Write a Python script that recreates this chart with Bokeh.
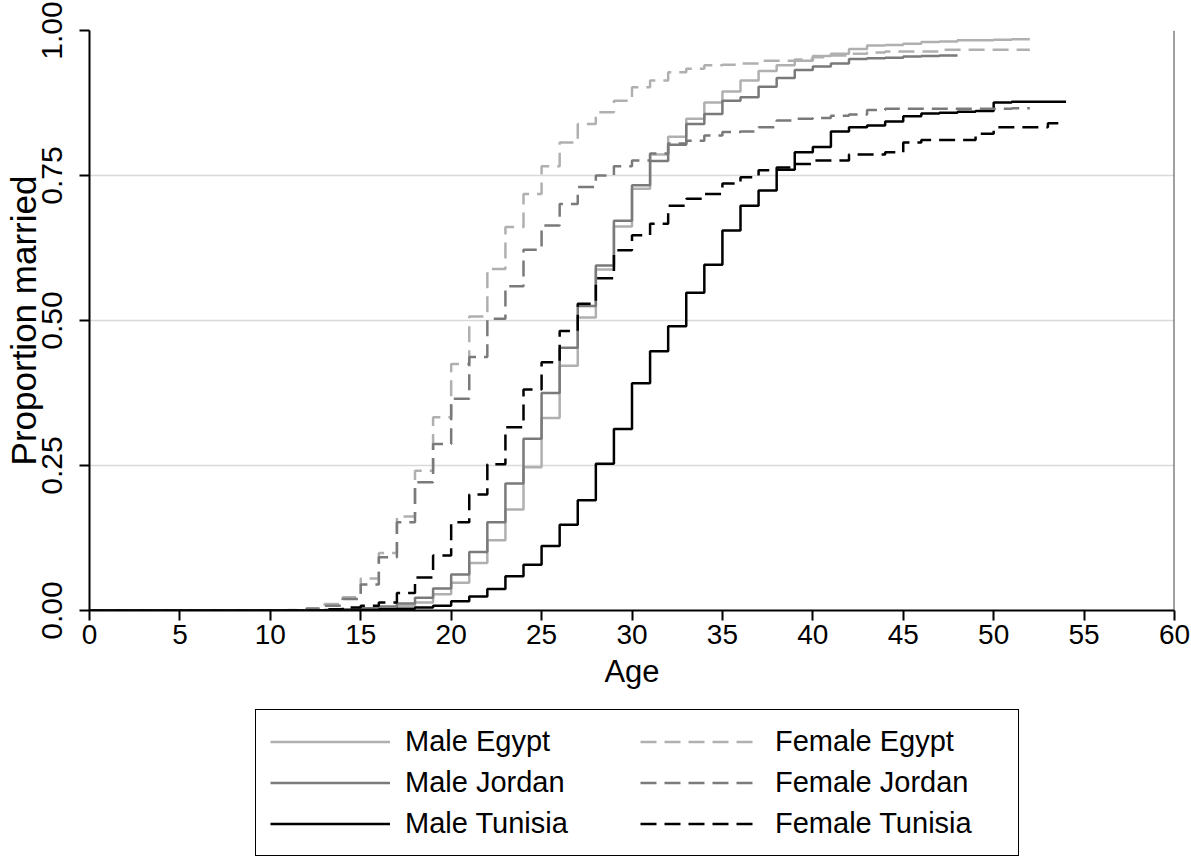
from bokeh.plotting import figure
from bokeh.models import Range1d, Legend, LegendItem, Span
from bokeh.layouts import column
from bokeh.embed import file_html
from bokeh.resources import INLINE

# ---- data (proportion married by single year of age, KM-style steps) ----
male_egypt = [0, 0, 0, 0, 0, 0, 0, 0, 0, 0, 0, 0, 0,
              0.001, 0.002, 0.003, 0.005, 0.008, 0.014, 0.028, 0.048, 0.082, 0.121,
              0.174, 0.247, 0.332, 0.422, 0.505, 0.588, 0.662, 0.727, 0.786, 0.817,
              0.848, 0.876, 0.895, 0.914, 0.930, 0.940, 0.948, 0.956, 0.960, 0.968,
              0.974, 0.975, 0.977, 0.980, 0.981, 0.983, 0.983, 0.984, 0.985, 0.985]
male_jordan = [0, 0, 0, 0, 0, 0, 0, 0, 0, 0, 0, 0, 0,
               0.001, 0.002, 0.004, 0.007, 0.012, 0.022, 0.038, 0.062, 0.101, 0.152,
               0.219, 0.296, 0.375, 0.453, 0.525, 0.595, 0.672, 0.733, 0.775, 0.803,
               0.839, 0.856, 0.879, 0.885, 0.903, 0.918, 0.932, 0.938, 0.943, 0.951,
               0.952, 0.953, 0.955, 0.956, 0.957, 0.957]
male_tunisia = [0, 0, 0, 0, 0, 0, 0, 0, 0, 0, 0, 0, 0, 0, 0,
                0.001, 0.002, 0.003, 0.005, 0.008, 0.016, 0.024, 0.037, 0.059, 0.079,
                0.111, 0.148, 0.190, 0.253, 0.313, 0.392, 0.447, 0.490, 0.548, 0.596,
                0.655, 0.698, 0.724, 0.760, 0.790, 0.799, 0.826, 0.833, 0.836, 0.843,
                0.852, 0.857, 0.858, 0.860, 0.861, 0.876, 0.877, 0.877, 0.877, 0.877]
female_egypt = [0, 0, 0, 0, 0, 0, 0, 0, 0, 0, 0,
                0.001, 0.004, 0.011, 0.023, 0.055, 0.099, 0.162, 0.241, 0.333, 0.425,
                0.507, 0.589, 0.661, 0.718, 0.766, 0.807, 0.839, 0.859, 0.879, 0.902,
                0.914, 0.928, 0.934, 0.940, 0.941, 0.943, 0.948, 0.948, 0.950, 0.954,
                0.957, 0.960, 0.962, 0.964, 0.964, 0.964, 0.967, 0.967, 0.967, 0.967,
                0.967, 0.967]
female_jordan = [0, 0, 0, 0, 0, 0, 0, 0, 0, 0, 0, 0,
                 0.003, 0.008, 0.020, 0.045, 0.092, 0.152, 0.221, 0.287, 0.365,
                 0.437, 0.503, 0.559, 0.622, 0.664, 0.701, 0.730, 0.750, 0.766, 0.776,
                 0.788, 0.805, 0.810, 0.819, 0.825, 0.826, 0.833, 0.845, 0.848, 0.849,
                 0.853, 0.855, 0.863, 0.865, 0.865, 0.865, 0.865, 0.865, 0.865, 0.865,
                 0.866, 0.866]
female_tunisia = [0, 0, 0, 0, 0, 0, 0, 0, 0, 0, 0, 0, 0,
                  0.002, 0.005, 0.008, 0.014, 0.030, 0.057, 0.095, 0.152, 0.200, 0.252,
                  0.316, 0.381, 0.428, 0.482, 0.529, 0.573, 0.621, 0.647, 0.667, 0.698,
                  0.710, 0.718, 0.736, 0.747, 0.759, 0.764, 0.770, 0.776, 0.776, 0.786,
                  0.786, 0.790, 0.807, 0.811, 0.811, 0.811, 0.822, 0.833, 0.833, 0.833,
                  0.840, 0.840]

x_ticks = [0, 5, 10, 15, 20, 25, 30, 35, 40, 45, 50, 55, 60]
y_ticks = [0, 0.25, 0.5, 0.75, 1.0]
y_tick_labels = ["0.00", "0.25", "0.50", "0.75", "1.00"]
male_labels = ["Male Egypt", "Male Jordan", "Male Tunisia"]
female_labels = ["Female Egypt", "Female Jordan", "Female Tunisia"]

FONT = "Liberation Sans"
LIGHT = "#b0b0b0"
MID = "#7a7a7a"
DARK = "#000000"
COLORS = [LIGHT, MID, DARK]
DASH = "16 8"
LW = 2.5

male_series = [male_egypt, male_jordan, male_tunisia]
female_series = [female_egypt, female_jordan, female_tunisia]

def ages(vals):
    return list(range(len(vals)))

def draw_series(fig):
    rs = []
    for vals, col in zip(male_series, COLORS):
        rs.append(fig.step(ages(vals), vals, mode="after", line_color=col, line_width=LW))
    for vals, col in zip(female_series, COLORS):
        rs.append(fig.step(ages(vals), vals, mode="after", line_color=col,
                           line_width=LW, line_dash=DASH))
    return rs

# ---- main plot ----
p = figure(width=1191, height=708, output_backend="svg", toolbar_location=None,
           x_range=Range1d(0, 60), y_range=Range1d(0, 1),
           min_border_left=89, min_border_right=17, min_border_top=30,
           min_border_bottom=98, background_fill_color="white",
           border_fill_color="white", outline_line_color=None)
draw_series(p)
p.add_layout(Span(location=60, dimension="height", line_color="#444444", line_width=2))

p.xgrid.visible = False
p.ygrid.ticker = [0.25, 0.5, 0.75, 1.0]
p.ygrid.grid_line_color = "#d9d9d9"
p.ygrid.grid_line_width = 1.5

p.xaxis.ticker = x_ticks
p.yaxis.ticker = y_ticks
p.yaxis.major_label_overrides = {t: s for t, s in zip(y_ticks, y_tick_labels)}
for ax in (p.xaxis, p.yaxis):
    ax.axis_line_color = "black"
    ax.axis_line_width = 2
    ax.major_tick_line_color = "black"
    ax.major_tick_line_width = 2
    ax.major_tick_out = 10
    ax.major_tick_in = 0
    ax.minor_tick_line_color = None
    ax.major_label_text_font = FONT
    ax.axis_label_text_font = FONT
    ax.axis_label_text_font_style = "normal"
    ax.major_label_text_color = "black"
    ax.axis_label_text_color = "black"

p.xaxis.axis_label = "Age"
p.xaxis.major_label_text_font_size = "28px"
p.xaxis.axis_label_text_font_size = "31px"
p.xaxis.major_label_standoff = 4
p.xaxis.axis_label_standoff = 7

p.yaxis.axis_label = "Proportion married"
p.yaxis.major_label_orientation = "vertical"
p.yaxis.major_label_text_font_size = "30px"
p.yaxis.axis_label_text_font_size = "35px"
p.yaxis.major_label_standoff = 18
p.yaxis.axis_label_standoff = -4

# ---- legend strip below the plot (series drawn out of view; legend only) ----
p2 = figure(width=1191, height=151, output_backend="svg", toolbar_location=None,
            x_range=Range1d(-20, -10), y_range=Range1d(0, 1),
            x_axis_type=None, y_axis_type=None,
            min_border_left=0, min_border_right=0, min_border_top=0, min_border_bottom=0,
            background_fill_color="white", border_fill_color="white",
            outline_line_color=None)
p2.xgrid.visible = False
p2.ygrid.visible = False
rs2 = draw_series(p2)

items = [LegendItem(label=l, renderers=[r]) for l, r in zip(male_labels + female_labels, rs2)]
legend = Legend(items=items, ncols=2, location=(166, 3), margin=0,
                label_text_font=FONT, label_text_font_size="29px", label_text_color="black",
                glyph_width=120, glyph_height=35, label_height=35, label_standoff=15,
                label_width=229, spacing=6, padding=14,
                border_line_color="black", border_line_width=1.5, border_line_alpha=1.0,
                background_fill_color="white", background_fill_alpha=1.0)
p2.add_layout(legend)

layout = column(p, p2, spacing=0)
open("out.html", "w").write(file_html(layout, INLINE))
